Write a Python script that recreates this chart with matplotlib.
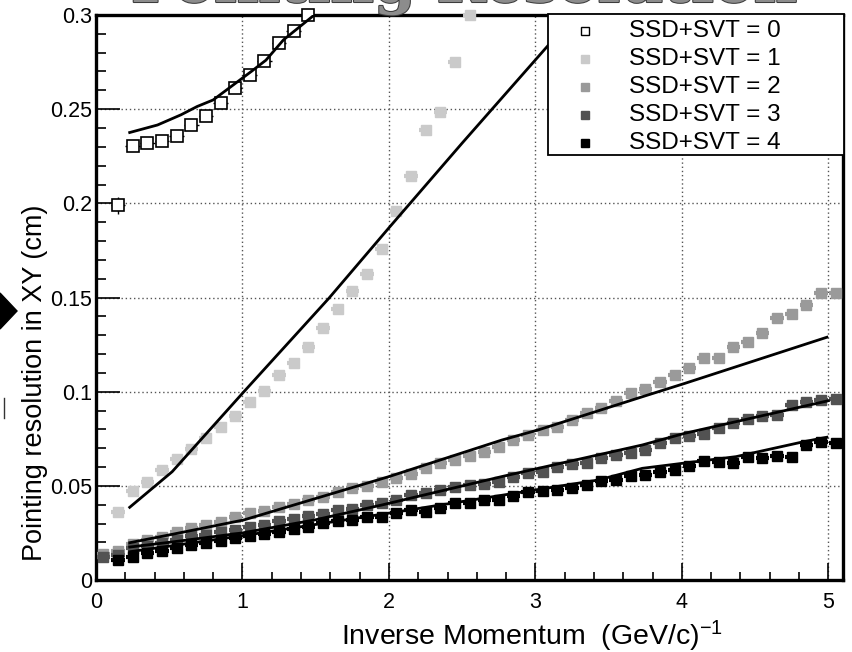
import numpy as np
import matplotlib.pyplot as plt
import matplotlib.patheffects as pe
from matplotlib.lines import Line2D
from matplotlib.patches import Polygon, Rectangle
from matplotlib.ticker import MultipleLocator, FixedFormatter, FixedLocator

plt.rcParams['font.family'] = ['Liberation Sans', 'DejaVu Sans']
plt.rcParams['mathtext.fontset'] = 'custom'
plt.rcParams['mathtext.rm'] = 'Liberation Sans'
plt.rcParams['mathtext.it'] = 'Liberation Sans:italic'

# bin centres in 1/p
p_bins = [0.05, 0.15, 0.25, 0.35, 0.45, 0.55, 0.65, 0.75, 0.85, 0.95,
          1.05, 1.15, 1.25, 1.35, 1.45, 1.55, 1.65, 1.75, 1.85, 1.95,
          2.05, 2.15, 2.25, 2.35, 2.45, 2.55, 2.65, 2.75, 2.85, 2.95,
          3.05, 3.15, 3.25, 3.35, 3.45, 3.55, 3.65, 3.75, 3.85, 3.95,
          4.05, 4.15, 4.25, 4.35, 4.45, 4.55, 4.65, 4.75, 4.85, 4.95, 5.05]

# pointing resolution (cm) per number of silicon hits
res_hits0 = [0.1991, 0.2305, 0.2322, 0.2331, 0.2358, 0.2416, 0.2464, 0.2535,
             0.2613, 0.2680, 0.2756, 0.2850, 0.2916, 0.3000]
res_hits1 = [0.0361, 0.0474, 0.0519, 0.0584, 0.0643, 0.0694, 0.0752, 0.0814,
             0.0873, 0.0947, 0.1005, 0.1089, 0.1151, 0.1239, 0.1337, 0.1438,
             0.1535, 0.1625, 0.1758, 0.1961, 0.2145, 0.2390, 0.2485, 0.2750,
             0.3000]
res_hits2 = [0.0138, 0.0156, 0.0190, 0.0212, 0.0230, 0.0257, 0.0275, 0.0292,
             0.0310, 0.0333, 0.0354, 0.0366, 0.0389, 0.0404, 0.0425, 0.0442,
             0.0469, 0.0487, 0.0499, 0.0520, 0.0540, 0.0563, 0.0593, 0.0623,
             0.0637, 0.0659, 0.0681, 0.0708, 0.0743, 0.0770, 0.0797, 0.0814,
             0.0850, 0.0885, 0.0912, 0.0952, 0.0991, 0.1015, 0.1053, 0.1089,
             0.1124, 0.1181, 0.1181, 0.1236, 0.1266, 0.1313, 0.1390, 0.1413,
             0.1460, 0.1523, 0.1523]
res_hits3 = [0.0124, 0.0135, 0.0170, 0.0183, 0.0199, 0.0212, 0.0231, 0.0238,
             0.0256, 0.0268, 0.0282, 0.0293, 0.0311, 0.0322, 0.0341, 0.0352,
             0.0372, 0.0379, 0.0396, 0.0407, 0.0425, 0.0451, 0.0460, 0.0478,
             0.0496, 0.0505, 0.0510, 0.0522, 0.0549, 0.0567, 0.0575, 0.0602,
             0.0616, 0.0623, 0.0646, 0.0664, 0.0676, 0.0692, 0.0727, 0.0754,
             0.0766, 0.0775, 0.0805, 0.0835, 0.0853, 0.0873, 0.0876, 0.0929,
             0.0947, 0.0956, 0.0960]
res_hits4 = [0.0106, 0.0124, 0.0142, 0.0156, 0.0168, 0.0186, 0.0195, 0.0209,
             0.0221, 0.0234, 0.0244, 0.0257, 0.0269, 0.0283, 0.0301, 0.0315,
             0.0319, 0.0333, 0.0336, 0.0357, 0.0372, 0.0363, 0.0381, 0.0407,
             0.0407, 0.0425, 0.0425, 0.0448, 0.0466, 0.0473, 0.0478, 0.0487,
             0.0505, 0.0527, 0.0531, 0.0554, 0.0560, 0.0575, 0.0586, 0.0605,
             0.0632, 0.0628, 0.0620, 0.0655, 0.0646, 0.0659, 0.0655, 0.0717,
             0.0734, 0.0729]

# fitted curves
fit0_x = [0.23, 0.42, 0.58, 0.69, 0.80, 1.06, 1.16, 1.28, 1.49]
fit0_y = [0.2376, 0.2416, 0.2470, 0.2514, 0.2549, 0.2700, 0.2760, 0.2868, 0.3000]
fit1_x = [0.23, 0.52, 1.01, 1.59, 2.00, 2.50, 3.10, 3.30]
fit1_y = [0.0386, 0.0575, 0.1000, 0.1496, 0.1870, 0.2320, 0.2850, 0.3030]
fit2_x = [0.23, 0.53, 1.01, 2.00, 2.77, 3.02, 3.73, 4.02, 4.99]
fit2_y = [0.0198, 0.0244, 0.0319, 0.0549, 0.0743, 0.0797, 0.0973, 0.1044, 0.1289]
fit3_x = [0.23, 0.50, 1.00, 1.50, 1.95, 2.77, 3.02, 3.73, 4.02, 5.00]
fit3_y = [0.0175, 0.0200, 0.0250, 0.0320, 0.0398, 0.0549, 0.0593, 0.0717, 0.0779, 0.0952]
fit4_x = [0.23, 1.00, 2.00, 3.43, 3.73, 4.37, 4.83, 4.99]
fit4_y = [0.0150, 0.0235, 0.0355, 0.0531, 0.0593, 0.0655, 0.0734, 0.0758]

labels = ['SSD+SVT = 0', 'SSD+SVT = 1', 'SSD+SVT = 2', 'SSD+SVT = 3', 'SSD+SVT = 4']
colors = ['black', '#cacaca', '#9a9a9a', '#525252', 'black']

W, H = 852, 652
fig = plt.figure(figsize=(W / 100, H / 100), dpi=100)
ax = fig.add_axes([96 / W, 1 - 580 / H, (843 - 96) / W, (580 - 15) / H])

series = [
    (p_bins[1:15], res_hits0),
    (p_bins[1:26], res_hits1),
    (p_bins, res_hits2),
    (p_bins, res_hits3),
    (p_bins[1:], res_hits4),
]

for i, (xs, ys) in enumerate(series):
    if i == 0:
        yerr = np.zeros(len(ys))
        yerr[0] = 0.0045
        eb = ax.errorbar(xs, ys, xerr=0.05, yerr=yerr, fmt='s', ms=8,
                         mfc='white', mec='black', mew=1.2, ecolor='black',
                         elinewidth=1.0, capsize=0, zorder=3)
    else:
        eb = ax.errorbar(xs, ys, xerr=0.045, fmt='s', ms=7.5, color=colors[i],
                         mec=colors[i], elinewidth=3.0, capsize=0, zorder=3)
    for art in eb.get_children():
        art.set_clip_on(False)

for fx, fy in [(fit0_x, fit0_y), (fit1_x, fit1_y), (fit2_x, fit2_y),
               (fit3_x, fit3_y), (fit4_x, fit4_y)]:
    ax.plot(fx, fy, color='black', lw=2.0, zorder=4)

ax.set_xlim(0, 5.1)
ax.set_ylim(0, 0.3)

ax.xaxis.set_major_locator(FixedLocator([0, 1, 2, 3, 4, 5]))
ax.xaxis.set_minor_locator(MultipleLocator(0.2))
ax.yaxis.set_major_locator(FixedLocator([0, 0.05, 0.1, 0.15, 0.2, 0.25, 0.3]))
ax.yaxis.set_major_formatter(FixedFormatter(['0', '0.05', '0.1', '0.15', '0.2', '0.25', '0.3']))
ax.yaxis.set_minor_locator(MultipleLocator(0.01))

ax.tick_params(axis='both', which='both', direction='in', top=False, right=False,
               labelsize=15.5, colors='black', width=1.2)
ax.tick_params(axis='y', which='major', length=17, pad=3)
ax.tick_params(axis='y', which='minor', length=7.5)
ax.tick_params(axis='x', which='major', length=12, pad=9)
ax.tick_params(axis='x', which='minor', length=6)

for sp in ax.spines.values():
    sp.set_linewidth(2.4)

ax.grid(True, which='major', color='#555555', lw=1.0, ls=(0, (1, 2)))
ax.set_axisbelow(True)

# legend box drawn by hand, on top of the frame
lx0, lx1, ly0, ly1 = 548, 844, 14, 155
fig.add_artist(Rectangle((lx0 / W, 1 - ly1 / H), (lx1 - lx0) / W, (ly1 - ly0) / H,
                         transform=fig.transFigure, facecolor='white',
                         edgecolor='black', lw=1.3, zorder=5))
row_y = [31, 59, 87, 115, 143]
for i in range(5):
    yy = 1 - row_y[i] / H
    if i == 0:
        mk = Line2D([585 / W], [yy], ls='none', marker='s', ms=5.5, mfc='white',
                    mec='black', mew=1.0, transform=fig.transFigure, zorder=6)
    else:
        mk = Line2D([585 / W], [yy], ls='none', marker='s', ms=5.5,
                    color=colors[i], transform=fig.transFigure, zorder=6)
    fig.add_artist(mk)
    fig.text(629 / W, yy, labels[i], ha='left', va='center', fontsize=17.5, zorder=7)

fig.text(35 / W, 1 - 383 / H, 'Pointing resolution in XY (cm)', rotation=90,
         ha='center', va='center', fontsize=19.5)
fig.text(532 / W, 1 - 636 / H, r'Inverse Momentum  (GeV/c)$^{-1}$',
         ha='center', va='center', fontsize=20.5)

# page title, mostly above the top edge
fig.text(464 / W, 1 - 2 / H, 'Pointing Resolution', ha='center', va='baseline',
         fontsize=43, fontweight='bold', family='DejaVu Serif', color='#8c8c8c',
         path_effects=[pe.withStroke(linewidth=1.5, foreground='#3c3c3c')])

# slide decorations on the left edge
fig.add_artist(Polygon([[0, 1 - 293 / H], [17 / W, 1 - 311 / H], [0, 1 - 329 / H]],
                       closed=True, transform=fig.transFigure, color='black'))
fig.add_artist(Line2D([3.5 / W, 3.5 / W], [1 - 398 / H, 1 - 418 / H],
                      transform=fig.transFigure, color='#333333', lw=1.0))

fig.savefig('out.png', dpi=100)
